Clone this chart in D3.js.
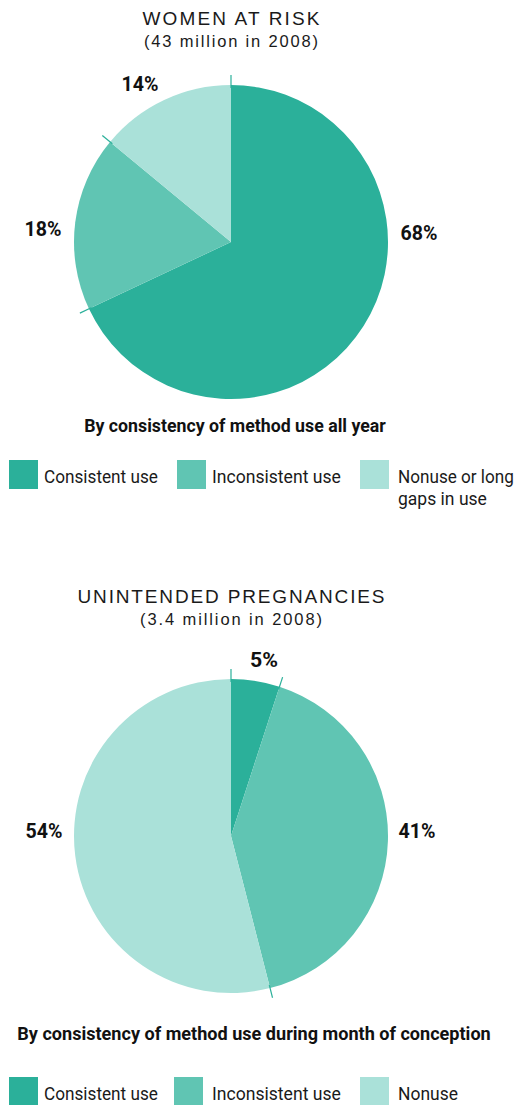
<!DOCTYPE html>
<html><head><meta charset="utf-8">
<script src="https://cdn.jsdelivr.net/npm/d3@7"></script>
<style>
body{margin:0;background:#fff;}
svg{display:block;}
.cond{font-family:Roboto,"DejaVu Sans Condensed",sans-serif;}
</style></head><body>
<script>
const categories1 = ["Consistent use","Inconsistent use","Nonuse or long gaps in use"];
const values1 = [68, 18, 14];
const categories2 = ["Consistent use","Inconsistent use","Nonuse"];
const values2 = [5, 41, 54];
const colors = ["#2bb09a","#60c5b3","#aae1d9"];

const W=519,H=1105;
const svg=d3.select("body").append("svg").attr("width",W).attr("height",H);

// scale text horizontally to a target width using a transform (anchor-aware)
function squeeze(sel,len){
  const node=sel.node();
  const nat=node.getComputedTextLength();
  const k=len/nat;
  const x=+sel.attr("x"), y=+sel.attr("y");
  sel.attr("x",0).attr("y",0).attr("transform",`translate(${x},${y}) scale(${k},1)`);
  return sel;
}
function fitSpacing(sel,len){
  sel.attr("textLength",len).attr("lengthAdjust","spacing");
  return sel;
}

function drawPie(cfg){
  const g=svg.append("g").attr("transform",`translate(${cfg.cx},${cfg.cy})`);
  const r=157;
  const pie=d3.pie().sort(null).value(d=>d)(cfg.values);
  const arc=d3.arc().innerRadius(0).outerRadius(r);
  g.selectAll("path").data(pie).join("path").attr("d",arc).attr("fill",(d,i)=>colors[i]);
  pie.forEach(d=>{
    const a=d.startAngle;
    g.append("line")
      .attr("x1",Math.sin(a)*(r-3)).attr("y1",-Math.cos(a)*(r-3))
      .attr("x2",Math.sin(a)*(r+10)).attr("y2",-Math.cos(a)*(r+10))
      .attr("stroke","#2bb09a").attr("stroke-width",1.2);
  });
  pie.forEach((d,i)=>{
    const p=cfg.labelPos[i];
    const s=String(cfg.values[i]).length;
    squeeze(svg.append("text").attr("class","cond")
      .attr("x",p[0]).attr("y",p[1]).attr("text-anchor","middle")
      .attr("font-size",21).attr("font-weight","bold").attr("fill","#111")
      .text(cfg.values[i]+"%"), s===1?28:37);
  });
  fitSpacing(svg.append("text").attr("x",cfg.cx).attr("y",cfg.titleY).attr("text-anchor","middle")
    .attr("font-family","Liberation Sans, Arial, sans-serif").attr("font-size",19)
    .attr("fill","#1a1a1a").text(cfg.title), cfg.titleW);
  fitSpacing(svg.append("text").attr("x",cfg.cx).attr("y",cfg.titleY+22).attr("text-anchor","middle")
    .attr("font-family","Liberation Sans, Arial, sans-serif").attr("font-size",16.5)
    .attr("fill","#1a1a1a").text(cfg.sub), cfg.subW);
  squeeze(svg.append("text").attr("class","cond").attr("x",cfg.byX).attr("y",cfg.byY).attr("text-anchor","middle")
    .attr("font-size",17.5).attr("font-weight","bold").attr("fill","#111").text(cfg.by), cfg.byW);
  cfg.cats.forEach((c,i)=>{
    const lx=cfg.legX[i], ly=cfg.legY;
    svg.append("rect").attr("x",lx).attr("y",ly).attr("width",29).attr("height",29).attr("fill",colors[i]);
    cfg.legLines[i].forEach((ln,k)=>{
      squeeze(svg.append("text").attr("class","cond").attr("x",cfg.legTX[i]).attr("y",ly+23+k*22)
        .attr("font-size",19).attr("fill","#1a1a1a").text(ln), cfg.legW[i][k]);
    });
  });
}

drawPie({cx:231,cy:242,values:values1,cats:categories1,
  labelPos:[[419,240],[43,236],[140,91]],
  title:"WOMEN AT RISK",sub:"(43 million in 2008)",titleY:25,titleW:177,subW:174,
  by:"By consistency of method use all year",byX:235,byY:432,byW:302,
  legX:[9,177,360],legTX:[44,212,398],legY:460,
  legW:[[114],[129],[116,89]],
  legLines:[["Consistent use"],["Inconsistent use"],["Nonuse or long","gaps in use"]]});

drawPie({cx:231,cy:836,values:values2,cats:categories2,
  labelPos:[[264,667],[417,838],[44,838]],
  title:"UNINTENDED PREGNANCIES",sub:"(3.4 million in 2008)",titleY:603,titleW:307,subW:182,
  by:"By consistency of method use during month of conception",byX:254,byY:1040,byW:474,
  legX:[9,174,360],legTX:[44,212,398],legY:1077,
  legW:[[114],[129],[60]],
  legLines:[["Consistent use"],["Inconsistent use"],["Nonuse"]]});
</script>
</body></html>
